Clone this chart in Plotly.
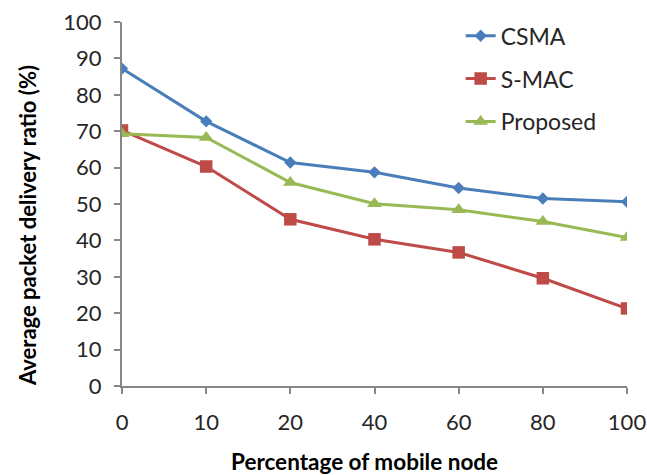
import plotly.graph_objects as go

x_labels = ["0", "10", "20", "40", "60", "80", "100"]
csma = [87.2, 72.7, 61.4, 58.7, 54.4, 51.5, 50.6]
smac = [70.2, 60.3, 45.8, 40.3, 36.7, 29.6, 21.3]
proposed = [69.3, 68.3, 55.9, 50.1, 48.4, 45.2, 40.8]

series = [
    ("CSMA", csma, "#4A7EBB", "diamond", 9.5),
    ("S-MAC", smac, "#BE4B48", "square", 12.5),
    ("Proposed", proposed, "#98B954", "triangle-up", 13),
]

FONT = "Lato"
fig = go.Figure()
for i, (name, vals, color, sym, sz) in enumerate(series):
    fig.add_trace(go.Scatter(
        x=x_labels, y=vals, name=name, mode="lines+markers",
        line=dict(color=color, width=3),
        marker=dict(symbol=sym, size=sz, color=color),
        legendgroup=f"g{i}",
    ))

W, H = 647, 475
L, T = 122, 22
PW, PH = 505, 364
axis_col = "#868686"
fig.update_layout(
    width=W, height=H,
    margin=dict(l=L, r=W - L - PW, t=T, b=H - T - PH, autoexpand=False),
    paper_bgcolor="white", plot_bgcolor="white",
    font=dict(family=FONT, size=22, color="#262626"),
    showlegend=True,
    legend=dict(xref="container", yref="container", x=0.712, y=0.970,
                xanchor="left", yanchor="top",
                font=dict(family=FONT, size=23, color="#262626"),
                tracegroupgap=10, bgcolor="rgba(0,0,0,0)"),
    xaxis=dict(type="category", range=[0, 6], showline=True, linecolor=axis_col,
               linewidth=2, ticks="outside", ticklen=6, tickcolor=axis_col,
               tickwidth=2, showgrid=False, zeroline=False, ticklabelstandoff=10,
               automargin=False, ticklabeloverflow="allow",
               tickfont=dict(family=FONT, size=22, color="#262626")),
    yaxis=dict(range=[0, 100], dtick=10, showline=True, linecolor=axis_col,
               linewidth=2, ticks="outside", ticklen=6, tickcolor=axis_col,
               tickwidth=2, showgrid=False, zeroline=False, ticklabelstandoff=8,
               automargin=False, ticklabeloverflow="allow",
               tickfont=dict(family=FONT, size=22, color="#262626")),
    annotations=[
        dict(text="<b>Percentage of mobile node</b>", xref="paper", yref="paper",
             x=(364 - L) / PW, y=-(461 - (T + PH)) / PH, xanchor="center", yanchor="middle",
             showarrow=False, font=dict(family=FONT, size=22.5, color="#000000")),
        dict(text="<b>Average packet delivery ratio (%)</b>", xref="paper", yref="paper",
             x=-(L - 27) / PW, y=((T + PH) - 226) / PH, xanchor="center", yanchor="middle",
             textangle=-90, showarrow=False,
             font=dict(family=FONT, size=22, color="#000000")),
    ],
)

fig.write_html("out.html", config={"displayModeBar": False},
               post_script="document.body.style.margin='0';document.body.style.overflow='hidden';")
